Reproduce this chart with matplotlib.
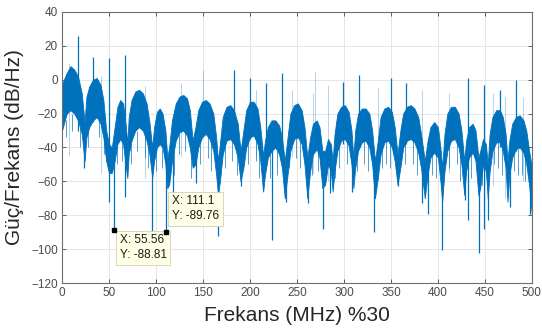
import numpy as np
import matplotlib
matplotlib.use("Agg")
import matplotlib.pyplot as plt

# envelope of the dense spectrum band
env_x = [0, 2, 5, 9, 13, 17, 21, 24,
         26, 29, 33, 37, 41, 44, 47, 50, 53,
         56, 59, 62, 65, 68, 69.5,
         71, 74, 78, 82, 86, 90, 93, 96,
         98, 101, 104, 107, 110, 112,
         114, 117, 121, 125, 129, 133, 136, 139,
         142, 145, 149, 153, 157, 161, 164, 166,
         168, 171, 175, 179, 183, 187, 190,
         193, 196, 200, 204, 208, 211, 214,
         216, 219, 223, 227, 231, 234, 237,
         240, 243, 247, 251, 255, 258, 261,
         264, 267, 271, 274, 277,
         280, 283, 286, 288,
         290, 293, 297, 301, 305, 308, 310,
         312, 315, 319, 323, 327, 330, 333,
         336, 339, 343, 347, 351, 354, 357,
         360, 363, 367, 371, 375, 379, 382, 386,
         389, 392, 396, 400, 403, 404.5,
         407, 410, 414, 418, 422, 425, 428,
         430, 433, 437, 440, 443,
         445, 448, 451, 453,
         455, 458, 462, 466, 469, 472, 474,
         476, 479, 483, 487, 491, 494, 497, 500]
env_hi = [-3, 0, 4, 8, 6, 2, -8, -25,
          -10, -4, 0, 1, -3, -12, -30, -38, -40,
          -28, -16, -12, -14, -28, -38,
          -22, -12, -7, -6, -8, -14, -25, -40,
          -28, -19, -17, -20, -30, -46,
          -40, -24, -14, -10, -9, -11, -18, -36,
          -28, -18, -13, -12, -14, -20, -34, -48,
          -38, -22, -16, -15, -18, -26, -42,
          -30, -18, -13, -13, -17, -28, -45,
          -36, -28, -24, -24, -27, -34, -48,
          -34, -20, -15, -14, -18, -28, -46,
          -34, -26, -24, -28, -42,
          -42, -35, -38, -48,
          -32, -20, -16, -15, -19, -30, -46,
          -30, -20, -17, -17, -20, -30, -48,
          -36, -22, -17, -16, -19, -28, -44,
          -30, -20, -16, -15, -17, -22, -32, -48,
          -36, -28, -25, -28, -42, -52,
          -32, -20, -16, -16, -20, -30, -48,
          -36, -28, -26, -30, -46,
          -42, -35, -38, -50,
          -32, -22, -18, -18, -22, -32, -48,
          -36, -26, -22, -21, -24, -30, -42, -52]
env_lo = [-30, -26, -20, -18, -20, -24, -32, -48,
          -34, -28, -24, -22, -26, -34, -48, -55, -55,
          -48, -38, -35, -38, -52, -58,
          -44, -36, -30, -28, -30, -36, -44, -58,
          -48, -40, -38, -40, -50, -64,
          -62, -48, -36, -31, -30, -33, -40, -52,
          -50, -40, -34, -32, -35, -42, -56, -68,
          -60, -44, -36, -35, -38, -46, -60,
          -52, -40, -34, -33, -38, -48, -66,
          -56, -46, -42, -40, -44, -52, -70,
          -56, -42, -35, -34, -38, -50, -70,
          -54, -44, -41, -46, -64,
          -62, -50, -54, -66,
          -54, -42, -36, -35, -39, -50, -64,
          -52, -42, -37, -36, -40, -50, -70,
          -58, -44, -37, -36, -40, -48, -62,
          -52, -40, -36, -35, -37, -43, -52, -70,
          -56, -46, -43, -46, -62, -72,
          -54, -42, -36, -35, -40, -50, -68,
          -54, -46, -43, -48, -68,
          -64, -50, -54, -70,
          -54, -42, -37, -37, -42, -52, -72,
          -56, -46, -41, -40, -43, -50, -62, -80]

# strong single-bin spikes: x, bottom, top
spike_x = [16.7, 23.6, 33.3, 50.3, 55.56, 67, 95.4, 111.1, 118, 143,
           166, 183, 190.5, 200, 214, 217, 223, 234, 238, 262,
           278, 285, 299, 309, 316, 332, 350, 357, 366, 383,
           389, 404, 429, 432, 444, 449, 453, 466, 477, 483, 498]
spike_lo = [-30, -52, -25, -72, -88.81, -69, -90.7, -89.76, -67, -61,
            -92, -38, -63, -35, -65, -45, -94.5, -45, -72, -73,
            -88, -67, -38, -66, -38, -90, -38, -63, -38, -73,
            -79, -100.5, -71, -83, -102, -88, -83, -40, -75, -42, -79]
spike_hi = [26, -25, 13.6, 13, -45, 14.6, -40, -45, -40, -35,
            -45, 6, -40, 1, -45, -2, -40, 4, -48, -46,
            -45, -48, -1.5, -46, 3, -45, 1, -44, -2, -48,
            -50, -50, -48, 1, -50, -3, -50, -6, -45, 0, -50]

# faint thin spikes
faint_x = [7, 41, 88, 127, 150, 206, 245, 267, 269, 283, 336, 383, 412, 459, 471, 490]
faint_lo = [-45, -55, -58, -45, -30, -45, -45, -55, -35, -60, -60, -40, -55, -62, -70, -60]
faint_hi = [10, 2, -4, -2, 6, -6, -6, -8, 4.5, -3, -5, -6, -8, -8, -10, -10]

# ragged lower edge of the band
fringe_x = [4, 11, 19, 28, 39, 45, 58, 64, 73, 80, 88, 92, 100, 106, 119, 124,
            131, 137, 147, 155, 159, 173, 181, 186, 198, 206, 210, 221, 229, 242,
            249, 253, 266, 272, 291, 295, 303, 314, 321, 326, 341, 345, 349, 365,
            373, 378, 394, 398, 412, 420, 424, 435, 447, 460, 464, 468, 481, 485,
            489, 493]
fringe_hi = [-24, -20, -28, -30, -24, -30, -40, -37, -38, -30, -32, -40, -42, -40, -42, -32,
             -31, -42, -36, -33, -38, -40, -36, -44, -36, -35, -44, -44, -42, -40,
             -34, -36, -42, -42, -48, -38, -36, -40, -37, -38, -40, -37, -37, -37,
             -35, -40, -44, -44, -38, -36, -44, -44, -50, -38, -37, -40, -42, -41,
             -41, -45]
fringe_lo = [-34, -30, -40, -40, -34, -44, -50, -48, -50, -42, -46, -52, -54, -52, -56, -44,
             -42, -58, -50, -46, -54, -52, -48, -56, -50, -48, -58, -58, -56, -52,
             -46, -52, -56, -54, -58, -52, -50, -54, -50, -54, -52, -50, -52, -50,
             -50, -56, -56, -58, -52, -50, -60, -58, -62, -50, -52, -56, -54, -56,
             -56, -60]

# datatips
tip_x = [55.56, 111.1]
tip_y = [-88.81, -89.76]
tip_text = ["X: 55.56\nY: -88.81", "X: 111.1\nY: -89.76"]

xticks = np.arange(0, 501, 50)
yticks = np.arange(-120, 41, 20)

blue = "#0072BD"

plt.rcParams["font.family"] = ["Liberation Sans", "DejaVu Sans"]

fig = plt.figure(figsize=(5.42, 3.31), dpi=100)
ax = fig.add_axes([0.1144, 0.145, 0.867, 0.819])

ax.fill_between(env_x, env_lo, env_hi, color=blue, linewidth=0.6, edgecolor=blue)
ax.vlines(fringe_x, fringe_lo, fringe_hi, color=blue, linewidth=0.6, alpha=0.8)
ax.vlines(faint_x, faint_lo, faint_hi, color=blue, linewidth=0.6, alpha=0.35)
ax.vlines(spike_x, spike_lo, spike_hi, color=blue, linewidth=0.9)

offsets = [(4, -3), (4, 7)]
valign = ["top", "bottom"]
for x, y, t, off, va in zip(tip_x, tip_y, tip_text, offsets, valign):
    ax.annotate(t, xy=(x, y), xytext=off, textcoords="offset points",
                ha="left", va=va, fontsize=8.5, color="#1a1a1a",
                linespacing=1.3,
                bbox=dict(boxstyle="square,pad=0.3", fc="#ffffe6", ec="#d0d0c0", lw=0.6),
                zorder=6)
ax.plot(tip_x, tip_y, "s", color="black", markersize=3.5, zorder=8)

ax.set_xlim(0, 500)
ax.set_ylim(-120, 40)
ax.set_xticks(xticks)
ax.set_yticks(yticks)
ax.grid(True, color="#e2e2e2", linewidth=0.6)
ax.set_axisbelow(True)
ax.tick_params(direction="in", length=3, width=0.6, top=True, right=True,
               labelsize=8.5, colors="#4a4a4a", pad=3)
for s in ax.spines.values():
    s.set_color("#6e6e6e")
    s.set_linewidth(0.8)

ax.set_xlabel("Frekans (MHz) %30", fontsize=15, color="#262626", labelpad=5)
ax.set_ylabel("Güç/Frekans (dB/Hz)", fontsize=15, color="#262626", labelpad=5)

plt.savefig("out.png", dpi=100)
